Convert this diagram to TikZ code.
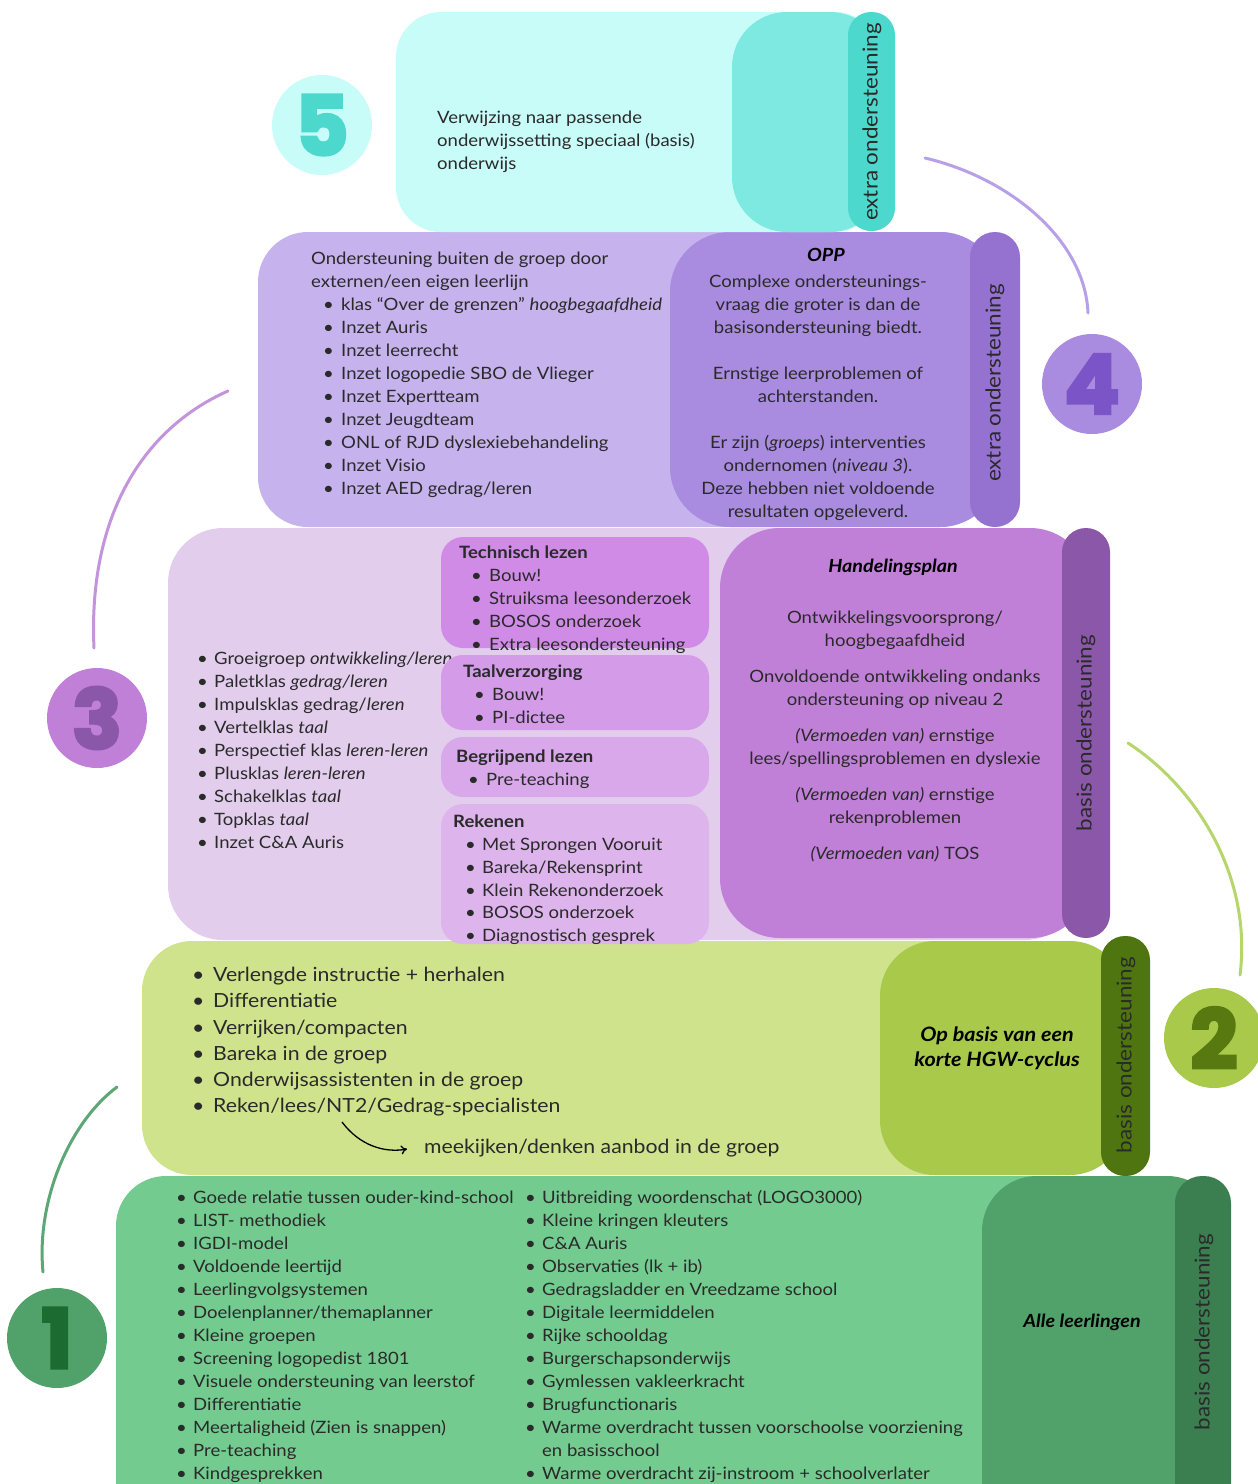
\documentclass[tikz,border=0pt]{standalone}
\usepackage{fontspec}
\setmainfont{Lato}[FakeStretch=1.09]
\newfontfamily\numfont{Poppins}[BoldFeatures={FakeBold=4}]
\usetikzlibrary{arrows.meta}
\definecolor{txtc}{HTML}{2A2A2A}
\definecolor{cA}{HTML}{C8FCF9}
\definecolor{cB}{HTML}{7DE9E0}
\definecolor{cC}{HTML}{4DD8CE}
\definecolor{pA}{HTML}{C6B2EC}
\definecolor{pB}{HTML}{A98BE0}
\definecolor{pC}{HTML}{9572CF}
\definecolor{pN}{HTML}{7B55C7}
\definecolor{pL}{HTML}{B7A0E8}
\definecolor{mA}{HTML}{E3CDED}
\definecolor{mB}{HTML}{C180D8}
\definecolor{mC}{HTML}{8B57A9}
\definecolor{mS1}{HTML}{D08BE7}
\definecolor{mS2}{HTML}{D49BE9}
\definecolor{mS3}{HTML}{D8A8EA}
\definecolor{mS4}{HTML}{DDB4EC}
\definecolor{mL}{HTML}{C394DC}
\definecolor{gA}{HTML}{CFE38D}
\definecolor{gB}{HTML}{A8C94A}
\definecolor{gC}{HTML}{4F7510}
\definecolor{gN}{HTML}{57790F}
\definecolor{gL}{HTML}{B6D66C}
\definecolor{eA}{HTML}{73CB8F}
\definecolor{eB}{HTML}{50A26A}
\definecolor{eC}{HTML}{3B7E50}
\definecolor{eN}{HTML}{1C6B30}
\definecolor{eL}{HTML}{5DA676}
\newcommand{\myb}[1]{\strut\makebox[#1][l]{\textbullet}}
\begin{document}
\begin{tikzpicture}[x=1pt,y=-1pt,
  txt/.style={inner sep=0pt, anchor=north west, align=left, text=txtc, yshift=-2pt, font=\fontsize{17}{23}\selectfont},
  ctxt/.style={inner sep=0pt, anchor=north, align=center, text=txtc, yshift=-2pt, font=\fontsize{17}{23}\selectfont},
  bi/.style={inner sep=0pt, align=center, text=black, font=\fontsize{18.1}{25}\selectfont\bfseries\itshape},
  lab/.style={rotate=90, inner sep=0pt, text=txtc, font=\fontsize{20.6}{24}\selectfont},
  numc/.style={circle, inner sep=0pt, minimum size=100pt, font=\numfont\bfseries\fontsize{82}{82}\selectfont},
  arcl/.style={line width=3pt, line cap=round}]
\useasboundingbox (0,0) rectangle (1258,1484);
\clip (0,0) rectangle (1258,1484);
\fill[white] (0,0) rectangle (1258,1484);

% ---------- level 1 ----------
\fill[eA, rounded corners=50pt] (116,1176) rectangle (1215,1560);
\fill[eB, rounded corners=55pt] (982,1176) rectangle (1222,1560);
\fill[eC, rounded corners=27pt] (1175,1176) rectangle (1231,1560);
\node[lab] (l1lab) at (1204,1332) {basis ondersteuning};
\node[bi] (l1t) at (1082,1322) {Alle leerlingen};
\node[txt] (l1a) at (176,1185.3) {%
\myb{17pt}Goede relatie tussen ouder-kind-school\\
\myb{17pt}LIST- methodiek\\
\myb{17pt}IGDI-model\\
\myb{17pt}Voldoende leertijd\\
\myb{17pt}Leerlingvolgsystemen\\
\myb{17pt}Doelenplanner/themaplanner\\
\myb{17pt}Kleine groepen\\
\myb{17pt}Screening logopedist 1801\\
\myb{17pt}Visuele ondersteuning van leerstof\\
\myb{17pt}Differentiatie\\
\myb{17pt}Meertaligheid (Zien is snappen)\\
\myb{17pt}Pre-teaching\\
\myb{17pt}Kindgesprekken};
\node[txt] (l1b) at (525,1185.3) {%
\myb{17pt}Uitbreiding woordenschat (LOGO3000)\\
\myb{17pt}Kleine kringen kleuters\\
\myb{17pt}C\&A Auris\\
\myb{17pt}Observaties (lk + ib)\\
\myb{17pt}Gedragsladder en Vreedzame school\\
\myb{17pt}Digitale leermiddelen\\
\myb{17pt}Rijke schooldag\\
\myb{17pt}Burgerschapsonderwijs\\
\myb{17pt}Gymlessen vakleerkracht\\
\myb{17pt}Brugfunctionaris\\
\myb{17pt}Warme overdracht tussen voorschoolse voorziening\\
\strut\hspace*{17pt}en basisschool\\
\myb{17pt}Warme overdracht zij-instroom + schoolverlater};

% ---------- level 2 ----------
\fill[gA, rounded corners=50pt] (142,941) rectangle (1110,1175);
\fill[gB, rounded corners=55pt] (880,941) rectangle (1125,1175);
\fill[gC, rounded corners=24pt] (1101,936) rectangle (1150,1176);
\node[lab] (l2lab) at (1126,1055) {basis ondersteuning};
\node[bi, font=\fontsize{19.8}{25}\selectfont\bfseries\itshape] (l2t) at (997,1048) {Op basis van een\\korte HGW-cyclus};
\node[txt, font=\fontsize{19.5}{26.2}\selectfont] (l2a) at (192,961.2) {%
\myb{21pt}Verlengde instructie + herhalen\\
\myb{21pt}Differentiatie\\
\myb{21pt}Verrijken/compacten\\
\myb{21pt}Bareka in de groep\\
\myb{21pt}Onderwijsassistenten in de groep\\
\myb{21pt}Reken/lees/NT2/Gedrag-specialisten};
\node[inner sep=0pt, anchor=west, text=txtc, font=\fontsize{19.5}{24}\selectfont] (mk) at (424,1148) {meekijken/denken aanbod in de groep};
\coordinate (arS) at (342,1122);
\draw[line width=1.3pt, -{To[length=6pt,width=9pt]}] (arS) .. controls (360,1146) and (385,1153) .. ([xshift=-17pt,yshift=-1pt]mk.west);

% ---------- level 3 ----------
\fill[mA, rounded corners=55pt] (168,528) rectangle (1080,940);
\fill[mB, rounded corners=60pt] (720,528) rectangle (1090,938);
\fill[mC, rounded corners=24pt] (1062,528) rectangle (1110,938);
\node[lab] (l3lab) at (1086,733) {basis ondersteuning};
\node[txt] (l3a) at (197,646.4) {%
\myb{17pt}Groeigroep \textit{ontwikkeling/leren}\\
\myb{17pt}Paletklas \textit{gedrag/leren}\\
\myb{17pt}Impulsklas gedrag/\textit{leren}\\
\myb{17pt}Vertelklas \textit{taal}\\
\myb{17pt}Perspectief klas \textit{leren-leren}\\
\myb{17pt}Plusklas \textit{leren-leren}\\
\myb{17pt}Schakelklas \textit{taal}\\
\myb{17pt}Topklas \textit{taal}\\
\myb{17pt}Inzet C\&A Auris};
\fill[mS1, rounded corners=22pt] (441,537) rectangle (709,648);
\fill[mS2, rounded corners=22pt] (441,655) rectangle (709,730);
\fill[mS3, rounded corners=22pt] (441,737) rectangle (709,797);
\fill[mS4, rounded corners=22pt] (441,804) rectangle (709,944);
\node[txt] (tl) at (459,540.3) {%
\strut\textbf{Technisch lezen}\\
\hspace*{12pt}\myb{18pt}Bouw!\\
\hspace*{12pt}\myb{18pt}Struiksma leesonderzoek\\
\hspace*{12pt}\myb{18pt}BOSOS onderzoek\\
\hspace*{12pt}\myb{18pt}Extra leesondersteuning};
\node[txt] (tv) at (463,659.4) {%
\strut\textbf{Taalverzorging}\\
\hspace*{11pt}\myb{18pt}Bouw!\\
\hspace*{11pt}\myb{18pt}PI-dictee};
\node[txt] (bl) at (456,744.4) {%
\strut\textbf{Begrijpend lezen}\\
\hspace*{12pt}\myb{18pt}Pre-teaching};
\node[txt, font=\fontsize{17}{22.8}\selectfont] (rk) at (453,809.5) {%
\strut\textbf{Rekenen}\\
\hspace*{12pt}\myb{17pt}Met Sprongen Vooruit\\
\hspace*{12pt}\myb{17pt}Bareka/Rekensprint\\
\hspace*{12pt}\myb{17pt}Klein Rekenonderzoek\\
\hspace*{12pt}\myb{17pt}BOSOS onderzoek\\
\hspace*{12pt}\myb{17pt}Diagnostisch gesprek};
\node[bi] (hp) at (893,567) {Handelingsplan};
\node[ctxt] (hpt) at (895,605.4) {%
\strut Ontwikkelingsvoorsprong/\\
\strut hoogbegaafdheid\\[13pt]
\strut Onvoldoende ontwikkeling ondanks\\
\strut ondersteuning op niveau 2\\[13pt]
\strut\textit{(Vermoeden van)} ernstige\\
\strut lees/spellingsproblemen en dyslexie\\[13pt]
\strut\textit{(Vermoeden van)} ernstige\\
\strut rekenproblemen\\[13pt]
\strut\textit{(Vermoeden van)} TOS};

% ---------- level 4 ----------
\fill[pA, rounded corners=50pt] (258,232) rectangle (990,527);
\fill[pB, rounded corners=60pt] (670,232) rectangle (1000,527);
\fill[pC, rounded corners=25pt] (970,232) rectangle (1020,527);
\node[lab] (l4lab) at (995,383) {extra ondersteuning};
\node[txt] (l4a) at (311,246.4) {%
\strut Ondersteuning buiten de groep door\\
\strut externen/een eigen leerlijn\\
\hspace*{12pt}\myb{18pt}klas “Over de grenzen” \textit{hoogbegaafdheid}\\
\hspace*{12pt}\myb{18pt}Inzet Auris\\
\hspace*{12pt}\myb{18pt}Inzet leerrecht\\
\hspace*{12pt}\myb{18pt}Inzet logopedie SBO de Vlieger\\
\hspace*{12pt}\myb{18pt}Inzet Expertteam\\
\hspace*{12pt}\myb{18pt}Inzet Jeugdteam\\
\hspace*{12pt}\myb{18pt}ONL of RJD dyslexiebehandeling\\
\hspace*{12pt}\myb{18pt}Inzet Visio\\
\hspace*{12pt}\myb{18pt}Inzet AED gedrag/leren};
\node[bi] (opp) at (826,255) {OPP};
\node[ctxt] (l4b) at (818,269.4) {%
\strut Complexe ondersteunings-\\
\strut vraag die groter is dan de\\
\strut basisondersteuning biedt.\\
\strut\\
\strut Ernstige leerproblemen of\\
\strut achterstanden.\\
\strut\\
\strut Er zijn (\textit{groeps}) interventies\\
\strut ondernomen (\textit{niveau 3}).\\
\strut Deze hebben niet voldoende\\
\strut resultaten opgeleverd.};

% ---------- level 5 ----------
\fill[cA, rounded corners=45pt] (396,12) rectangle (880,232);
\fill[cB, rounded corners=55pt] (732,12) rectangle (885,232);
\fill[cC, rounded corners=23pt] (848,12) rectangle (895,231);
\node[lab] (l5lab) at (872,122) {extra ondersteuning};
\node[txt] (l5a) at (437,105.4) {%
\strut Verwijzing naar passende\\
\strut onderwijssetting speciaal (basis)\\
\strut onderwijs};

% ---------- circles ----------
\node[numc, fill=cA, text=cC] (c5) at (322,125) {5};
\node[numc, fill=pB, text=pN] (c4) at (1092,384) {4};
\node[numc, fill=mB, text=mC] (c3) at (97,718) {3};
\node[numc, fill=gB, text=gN] (c2) at (1214,1038) {2};
\node[numc, fill=eB, text=eN] (c1) at (57,1338) {1};

% ---------- arcs ----------
\coordinate (a4s) at (925,158);
\coordinate (a4e) at (1088,313);
\coordinate (a3s) at (228,391);
\coordinate (a3e) at (94,648);
\coordinate (a2s) at (1128,743);
\coordinate (a2e) at (1240,975);
\coordinate (a1s) at (117,1087);
\coordinate (a1e) at (43,1272);
\draw[arcl, pL] (a4s) .. controls (1010,178) and (1085,240) .. (a4e);
\draw[arcl, mL] (a3s) .. controls (140,430) and (88,520) .. (a3e);
\draw[arcl, gL] (a2s) .. controls (1200,790) and (1252,880) .. (a2e);
\draw[arcl, eL] (a1s) .. controls (70,1122) and (36,1200) .. (a1e);
\end{tikzpicture}
\end{document}
